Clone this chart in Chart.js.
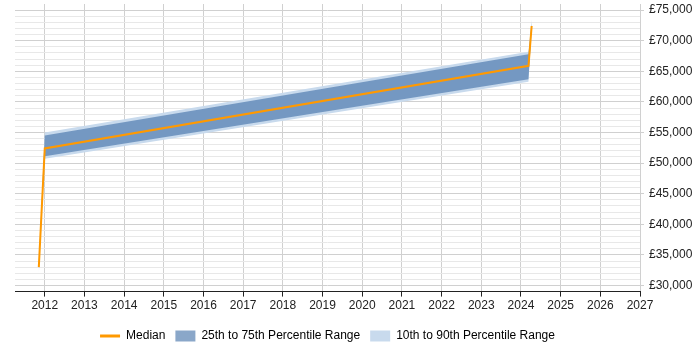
<!DOCTYPE html>
<html>
<head>
<meta charset="utf-8">
<script src="https://cdn.jsdelivr.net/npm/chart.js@4/dist/chart.umd.min.js"></script>
<style>
  html, body { margin: 0; padding: 0; background: #fff; }
</style>
</head>
<body>
<canvas id="chart" width="700" height="350"></canvas>
<script>
// salary data
const years = [2011.85, 2012.0, 2024.19, 2024.27];
const median = [33000, 52400, 65900, 72400];
const p10 = [31800, 50700, 63300, 71800];
const p25 = [32500, 51100, 63700, 72000];
const p75 = [33500, 54500, 67800, 73000];
const p90 = [34000, 55000, 68200, 73500];

const orange = "#ff9900";
const darkBand = "rgba(60,108,165,0.6)";
const lightBand = "#c8daed";

function pts(values) {
  return values.map((v, i) => ({ x: years[i], y: v }));
}

// horizontal grid: darker every 5000, none on the top bound
function hGrid(c, major, minor) {
  if (!c.tick || c.tick.value >= 76000) return "rgba(0,0,0,0)";
  return c.tick.value % 5000 === 0 ? major : minor;
}

Chart.defaults.font.family = "'Liberation Sans', Arial, sans-serif";
Chart.defaults.font.size = 12;
Chart.defaults.color = "#222";

const ctx = document.getElementById("chart").getContext("2d");

new Chart(ctx, {
  type: "line",
  data: {
    datasets: [
      { label: "Median", data: pts(median), borderColor: orange, borderWidth: 2, fill: false },
      { label: "75th", data: pts(p75), borderColor: "rgba(0,0,0,0)", borderWidth: 0, backgroundColor: darkBand, fill: "+1" },
      { label: "25th", data: pts(p25), borderColor: "rgba(0,0,0,0)", borderWidth: 0, fill: false },
      { label: "90th", data: pts(p90), borderColor: "rgba(0,0,0,0)", borderWidth: 0, backgroundColor: lightBand, fill: "+1" },
      { label: "10th", data: pts(p10), borderColor: "rgba(0,0,0,0)", borderWidth: 0, fill: false },
    ],
  },
  options: {
    responsive: false,
    animation: false,
    layout: { padding: { left: 15, top: 4, right: 3, bottom: -2 } },
    elements: {
      point: { radius: 0 },
      line: { tension: 0 },
    },
    plugins: {
      tooltip: { enabled: false },
      legend: {
        position: "bottom",
        fullSize: false,
        labels: {
          usePointStyle: true,
          pointStyleWidth: 20,
          boxHeight: 11,
          padding: 10,
          generateLabels: () => [
            { text: "Median", pointStyle: "line", strokeStyle: orange, fillStyle: orange, lineWidth: 3, datasetIndex: 0 },
            { text: "25th to 75th Percentile Range", pointStyle: "rect", strokeStyle: darkBand, fillStyle: darkBand, lineWidth: 0, datasetIndex: 1 },
            { text: "10th to 90th Percentile Range", pointStyle: "rect", strokeStyle: lightBand, fillStyle: lightBand, lineWidth: 0, datasetIndex: 3 },
          ],
        },
      },
    },
    scales: {
      x: {
        type: "linear",
        min: 2011.25,
        max: 2027,
        afterFit: (s) => { s.height += 5; },
        ticks: {
          stepSize: 1,
          includeBounds: false,
          autoSkip: false,
          maxRotation: 0,
          padding: 2,
          callback: (v) => String(v),
        },
        grid: { color: "#d0d0d0", tickLength: 5, tickColor: "#222" },
        border: { color: "#222", width: 1 },
      },
      y: {
        position: "right",
        min: 29000,
        max: 76000,
        afterFit: (s) => {
          s.width = 57;
          s.paddingTop = 0;
          s.paddingBottom = 0;
        },
        ticks: {
          stepSize: 1000,
          autoSkip: false,
          padding: 5,
          callback: (v) => (v % 5000 === 0 ? "£" + v.toLocaleString("en-GB") : ""),
        },
        grid: {
          color: (c) => hGrid(c, "#d0d0d0", "#e8e8e8"),
          tickColor: (c) => hGrid(c, "#d0d0d0", "rgba(0,0,0,0)"),
          tickLength: 4,
        },
        border: { display: false },
      },
    },
  },
});
</script>
</body>
</html>
